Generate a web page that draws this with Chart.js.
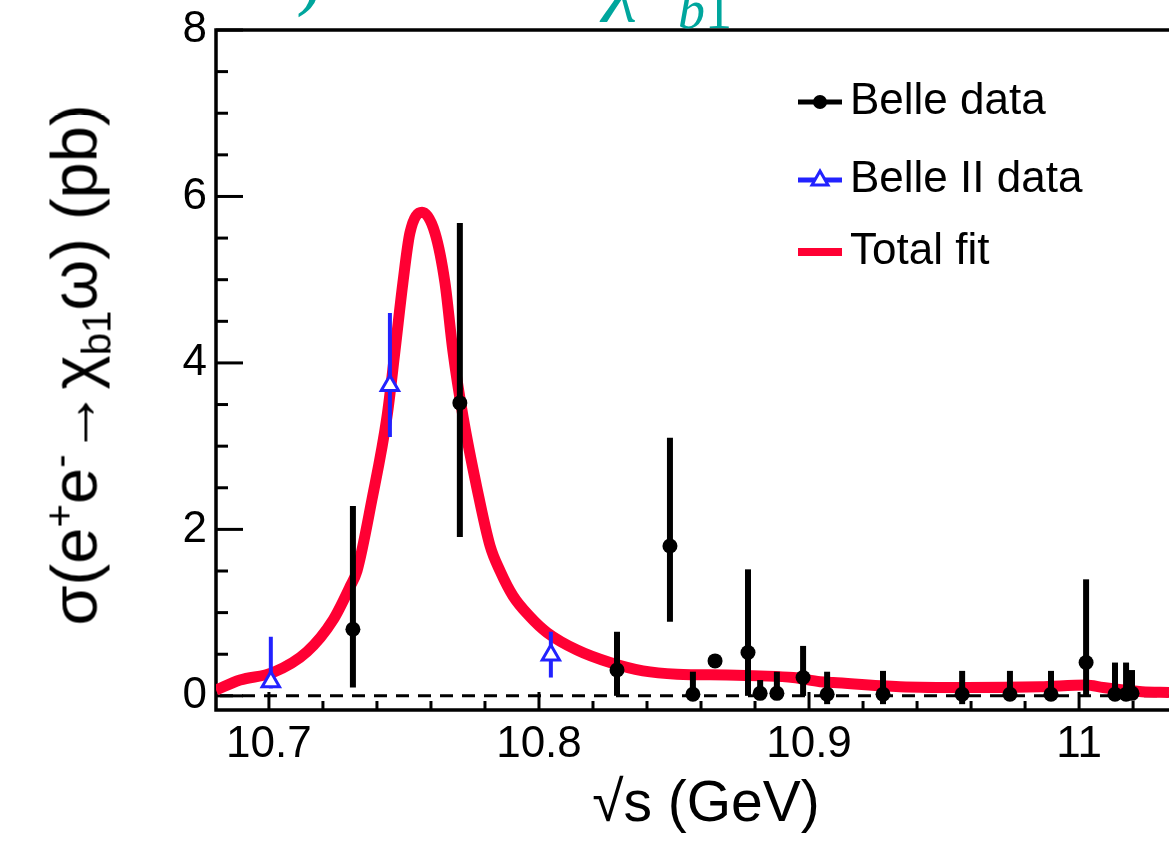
<!DOCTYPE html>
<html>
<head>
<meta charset="utf-8">
<script src="https://cdn.jsdelivr.net/npm/chart.js@4.4.0/dist/chart.umd.min.js"></script>
<style>
  html, body { margin: 0; padding: 0; background: #fff; overflow: hidden; }
  #wrap { position: relative; width: 1169px; height: 842px; overflow: hidden; }
  #chart { display: block; }
  #ytitle {
    position: absolute; left: 74px; top: 365px;
    transform: translate(-50%, -50%) rotate(-90deg);
    font: 65px "Liberation Sans", Arial, sans-serif; color: #000; white-space: nowrap;
  }
  #ytitle sup, #ytitle sub { font-size: 0.62em; line-height: 0; }
  #xtitle {
    position: absolute; left: 706px; top: 801px; transform: translateX(-50%);
    font: 57px "Liberation Sans", Arial, sans-serif; color: #000; white-space: nowrap; line-height: 0;
  }
  .teal { position: absolute; color: #00a69d; font-family: "Liberation Serif", serif; line-height: 0; white-space: nowrap; }
</style>
</head>
<body>
<div id="wrap">
  <canvas id="chart" width="1169" height="842"></canvas>
  <div id="ytitle">σ(e<sup>+</sup>e<sup>-</sup>→χ<sub>b1</sub>ω) (pb)</div>
  <div id="xtitle">√s (GeV)</div>
  <div class="teal" style="left:296px; top:-27px; font-size:80px;">)</div>
  <div class="teal" style="left:606px; top:-22px; font-size:80px; font-style:italic;">χ</div>
  <div class="teal" style="left:678px; top:10px; font-size:54px;"><i>b</i>1</div>
</div>
<script>
// DATA
const xTickLabels = [10.7, 10.8, 10.9, 11];
const yTickLabels = [0, 2, 4, 6, 8];

// Belle
const belleX    = [10.7311, 10.7707, 10.8289, 10.8485, 10.8570, 10.8652, 10.8774, 10.8819, 10.8881, 10.8978, 10.9067, 10.9274, 10.9567, 10.9744, 10.9896, 11.0026, 11.0133, 11.0174, 11.0196];
const belleY    = [0.80, 3.52, 0.31, 1.80, 0.02, 0.42, 0.52, 0.03, 0.03, 0.22, 0.02, 0.02, 0.02, 0.02, 0.02, 0.40, 0.02, 0.02, 0.03];
const belleUp   = [1.48, 2.16, 0.46, 1.30, 0.27, 0.00, 1.00, 0.16, 0.26, 0.38, 0.27, 0.28, 0.28, 0.28, 0.28, 1.00, 0.38, 0.38, 0.28];
const belleDown = [0.70, 1.61, 0.31, 0.91, 0.05, 0.00, 0.52, 0.08, 0.08, 0.22, 0.12, 0.12, 0.12, 0.08, 0.08, 0.40, 0.08, 0.08, 0.08];

// Belle II
const belle2X    = [10.7007, 10.7448, 10.8044];
const belle2Y    = [0.17, 3.73, 0.49];
const belle2Up   = [0.54, 0.87, 0.28];
const belle2Down = [0.08, 0.62, 0.27];

// Total fit
const fitX = [10.6804, 10.6893, 10.7015, 10.7141, 10.7237, 10.7300, 10.7326, 10.7381, 10.7437, 10.7467, 10.7496, 10.7522, 10.7567,
              10.7615, 10.7652, 10.7681, 10.7719, 10.7770, 10.7819, 10.7856, 10.7904, 10.7967, 10.8030, 10.8141, 10.8263, 10.8385,
              10.8511, 10.8696, 10.8819, 10.8941, 10.9041, 10.9089, 10.9337, 10.9585, 10.9856, 11.0026, 11.0089, 11.0233, 11.0333];
const fitY = [0.07, 0.19, 0.28, 0.53, 0.91, 1.31, 1.50, 2.35, 3.35, 4.15, 4.96, 5.56, 5.81,
              5.56, 4.96, 4.15, 3.35, 2.50, 1.80, 1.50, 1.20, 0.95, 0.76, 0.55, 0.40, 0.30,
              0.26, 0.25, 0.24, 0.22, 0.17, 0.16, 0.11, 0.10, 0.11, 0.13, 0.10, 0.05, 0.04];

const toPts = (xs, ys) => xs.map((x, i) => ({x, y: ys[i]}));
const isTick = (v, list) => list.some(t => Math.abs(t - v) < 1e-6);

const FONT = '"Liberation Sans", Arial, sans-serif';

// PLUGIN - frame, ticks, zero line, error bars, legend
const decor = {
  id: 'decor',
  beforeDatasetsDraw(chart) {
    const {ctx, chartArea: a, scales: {x, y}} = chart;
    ctx.save();
    // dashed zero line
    ctx.strokeStyle = '#000';
    ctx.lineWidth = 3;
    ctx.setLineDash([13, 9]);
    const y0 = y.getPixelForValue(0);
    ctx.beginPath(); ctx.moveTo(a.left + 4, y0); ctx.lineTo(a.right, y0); ctx.stroke();
    ctx.setLineDash([]);
    // inward ticks
    ctx.lineWidth = 3;
    y.ticks.forEach(t => {
      const py = y.getPixelForValue(t.value);
      const len = isTick(t.value, yTickLabels) ? 27 : 12;
      ctx.beginPath(); ctx.moveTo(a.left, py); ctx.lineTo(a.left + len, py); ctx.stroke();
    });
    x.ticks.forEach(t => {
      const px = x.getPixelForValue(t.value);
      const len = isTick(t.value, xTickLabels) ? 18 : 9;
      ctx.beginPath(); ctx.moveTo(px, a.bottom); ctx.lineTo(px, a.bottom - len); ctx.stroke();
    });
    // frame
    ctx.lineWidth = 3.5;
    ctx.beginPath();
    ctx.moveTo(a.right, a.top); ctx.lineTo(a.left, a.top);
    ctx.lineTo(a.left, a.bottom); ctx.lineTo(a.right, a.bottom);
    ctx.stroke();
    ctx.restore();
  },
  beforeDatasetDraw(chart, args) {
    const ds = chart.data.datasets[args.index];
    if (!ds.errUp) return;
    const {ctx, chartArea: a, scales: {x, y}} = chart;
    ctx.save();
    ctx.beginPath(); ctx.rect(a.left, a.top, a.right - a.left, a.bottom - a.top); ctx.clip();
    ctx.strokeStyle = ds.barColor;
    ctx.lineWidth = ds.barWidth;
    ds.data.forEach((p, i) => {
      if (!ds.errUp[i] && !ds.errDown[i]) return;
      const px = x.getPixelForValue(p.x);
      ctx.beginPath();
      ctx.moveTo(px, y.getPixelForValue(p.y + ds.errUp[i]));
      ctx.lineTo(px, y.getPixelForValue(p.y - ds.errDown[i]));
      ctx.stroke();
    });
    ctx.restore();
  },
  afterDraw(chart) {
    const {ctx} = chart;
    const rows = [102, 180, 252];
    const x0 = 798, x1 = 842, xm = 820;
    ctx.save();
    ctx.font = '44px ' + FONT;
    ctx.textBaseline = 'middle';
    // order in legend: Belle, Belle II, fit
    const items = [chart.data.datasets[1], chart.data.datasets[2], chart.data.datasets[0]];
    items.forEach((ds, k) => {
      const yy = rows[k];
      ctx.strokeStyle = ds.borderColor;
      ctx.lineWidth = k === 2 ? 8 : 5;
      ctx.beginPath(); ctx.moveTo(x0, yy); ctx.lineTo(x1, yy); ctx.stroke();
      if (k === 0) {
        ctx.fillStyle = '#000';
        ctx.beginPath(); ctx.arc(xm, yy, 7, 0, Math.PI * 2); ctx.fill();
      } else if (k === 1) {
        ctx.fillStyle = '#fff';
        ctx.lineWidth = 3;
        ctx.beginPath();
        ctx.moveTo(xm, yy - 9); ctx.lineTo(xm + 8, yy + 5); ctx.lineTo(xm - 8, yy + 5); ctx.closePath();
        ctx.fill(); ctx.stroke();
      }
      ctx.fillStyle = '#000';
      ctx.fillText(ds.label, 850, yy);
    });
    ctx.restore();
  }
};

const ctx = document.getElementById('chart');
const myChart = new Chart(ctx, {
  type: 'scatter',
  data: {
    datasets: [{
      type: 'line',
      label: 'Total fit',
      data: toPts(fitX, fitY),
      borderColor: '#ff0033',
      borderWidth: 11,
      pointRadius: 0,
      cubicInterpolationMode: 'monotone',
      fill: false,
      order: 3
    }, {
      label: 'Belle data',
      data: toPts(belleX, belleY),
      errUp: belleUp,
      errDown: belleDown,
      barColor: '#000',
      barWidth: 6,
      borderColor: '#000',
      backgroundColor: '#000',
      pointStyle: 'circle',
      pointRadius: 7.5,
      borderWidth: 0,
      order: 2
    }, {
      label: 'Belle II data',
      data: toPts(belle2X, belle2Y),
      errUp: belle2Up,
      errDown: belle2Down,
      barColor: '#2222ff',
      barWidth: 4,
      borderColor: '#2222ff',
      backgroundColor: '#fff',
      pointStyle: 'triangle',
      pointRadius: 10,
      borderWidth: 3,
      order: 1
    }]
  },
  options: {
    responsive: false,
    animation: false,
    layout: { autoPadding: false, padding: { top: 30, left: 0, right: 0, bottom: 0 } },
    plugins: { legend: { display: false }, tooltip: { enabled: false } },
    scales: {
      x: {
        type: 'linear',
        min: 10.6804,
        max: 11.0333,
        grid: { display: false, drawTicks: false },
        border: { display: false },
        afterFit(s) { s.height = 132; s.paddingLeft = 0; s.paddingRight = 0; },
        ticks: {
          stepSize: 0.02,
          includeBounds: false,
          autoSkip: false,
          maxRotation: 0,
          minRotation: 0,
          padding: 8,
          color: '#000',
          font: { family: FONT, size: 44 },
          callback: v => isTick(v, xTickLabels) ? String(Math.round(v * 10) / 10) : ''
        }
      },
      y: {
        min: -0.17,
        max: 8,
        grid: { display: false, drawTicks: false },
        border: { display: false },
        afterFit(s) { s.width = 216; s.paddingTop = 0; s.paddingBottom = 0; },
        ticks: {
          stepSize: 0.5,
          includeBounds: false,
          autoSkip: false,
          padding: 9,
          color: '#000',
          font: { family: FONT, size: 44 },
          callback: v => isTick(v, yTickLabels) ? String(Math.round(v)) : ''
        }
      }
    }
  },
  plugins: [decor]
});
</script>
</body>
</html>
